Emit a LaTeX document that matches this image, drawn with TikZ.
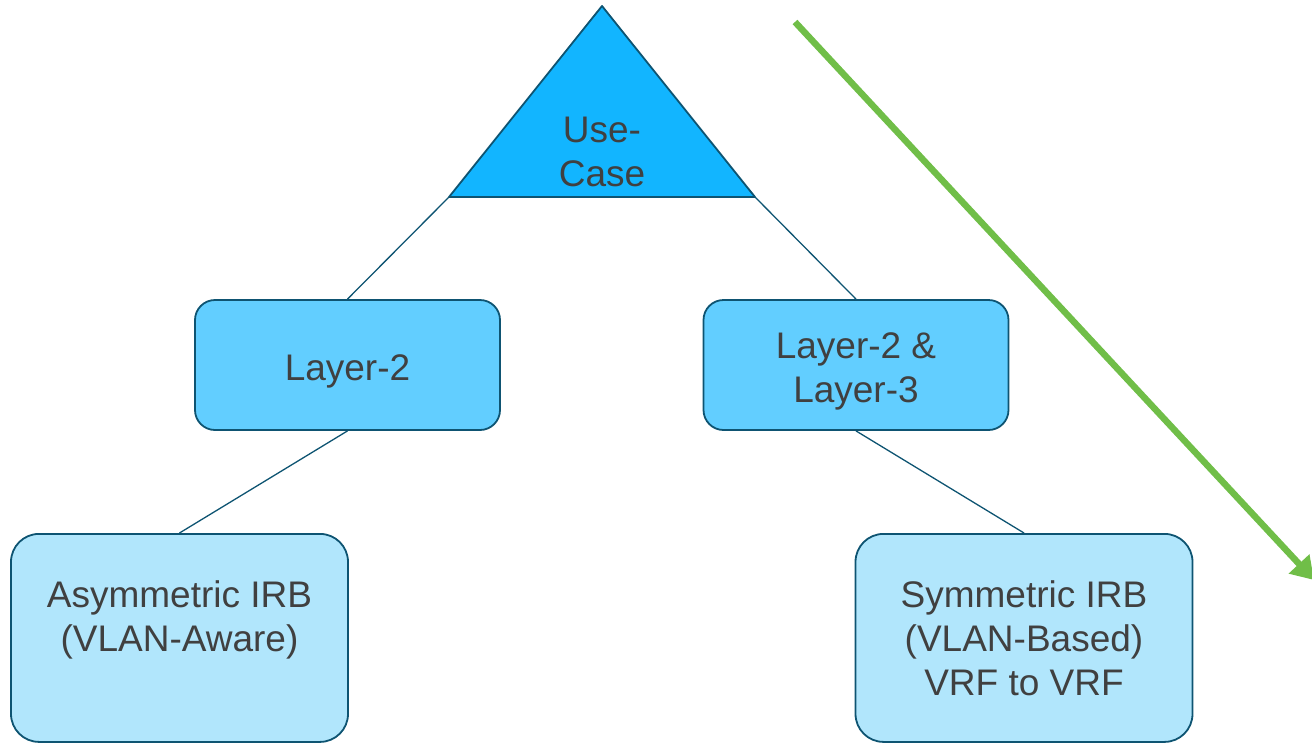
\documentclass[tikz,border=0pt]{standalone}
\usepackage{fontspec}
\setmainfont{Liberation Sans}
\usepackage{tikz}
\usetikzlibrary{positioning, arrows.meta}
\definecolor{edgeblue}{RGB}{14,84,114}
\definecolor{trifill}{RGB}{18,181,255}
\definecolor{midfill}{RGB}{98,206,255}
\definecolor{lowfill}{RGB}{177,230,252}
\definecolor{txtgray}{RGB}{64,64,64}
\definecolor{arrowgreen}{RGB}{112,190,72}
\tikzstyle{bigtext} = [font=\fontsize{37}{44}\selectfont, text=txtgray, align=center, inner sep=0pt]
\tikzstyle{midbox} = [rectangle, rounded corners=20pt, minimum width=305pt, minimum height=130pt, draw=edgeblue, line width=1.8pt, fill=midfill]
\tikzstyle{lowbox} = [rectangle, rounded corners=28pt, minimum width=337pt, minimum height=208pt, draw=edgeblue, line width=1.8pt, fill=lowfill, anchor=north]
\tikzstyle{link} = [draw=edgeblue, line width=1.3pt]
\tikzstyle{arrow} = [line width=6.5pt, draw=arrowgreen, -{Triangle[length=22pt,width=27pt]}]

\begin{document}
\begin{tikzpicture}[x=1pt, y=-1pt]
\useasboundingbox (0,0) rectangle (1312,742);
% use-case triangle
\coordinate (tritop) at (602,6);
\coordinate (trileft) at (449,197);
\coordinate (triright) at (755,197);
\draw [fill=trifill, draw=edgeblue, line width=1.8pt, line join=round] (tritop) -- (triright) -- (trileft) -- cycle;
\node (tri) [bigtext] at (602,152) {Use-\\Case};
% second level
\node (l2) [midbox] at (347.5,365) {};
\node (l2text) [bigtext] at (347.5,371) {Layer-2};
\node (l23) [midbox] at (856,365) {};
\node (l23text) [bigtext] at (856,371) {Layer-2 \&\\Layer-3};
% third level
\node (asym) [lowbox] at (179.5,533) {};
\node (asymtext) [bigtext, anchor=north] at (179.5,580) {Asymmetric IRB\\(VLAN-Aware)};
\node (sym) [lowbox] at (1024,533) {};
\node (symtext) [bigtext, anchor=north] at (1024,580) {Symmetric IRB\\(VLAN-Based)\\VRF to VRF};
\draw [link] (trileft) -- (l2.north);
\draw [link] (triright) -- (l23.north);
\draw [link] (l2.south) -- (asym.north);
\draw [link] (l23.south) -- (sym.north);
% green arrow
\coordinate (arrowstart) at (795,22);
\coordinate (arrowend) at (1314,580);
\draw [arrow] (arrowstart) -- (arrowend);
\end{tikzpicture}
\end{document}
